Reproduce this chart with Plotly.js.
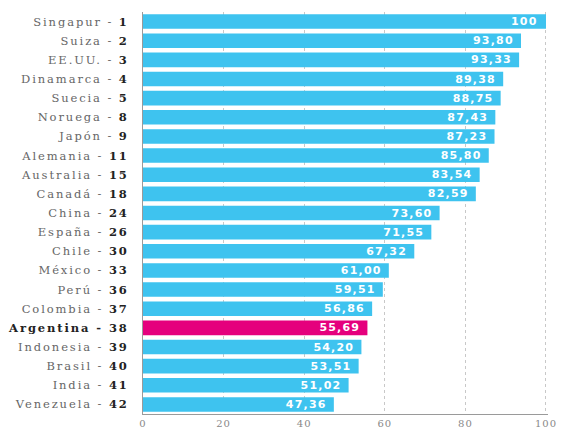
<!DOCTYPE html>
<html><head><meta charset="utf-8">
<script src="https://cdn.plot.ly/plotly-3.0.1.min.js"></script>
<style>html,body{margin:0;padding:0;background:#fff}</style>
</head><body><div id="chart" style="width:562px;height:428px"></div>
<script>
const countries = ["Singapur","Suiza","EE.UU.","Dinamarca","Suecia","Noruega","Japón","Alemania","Australia","Canadá","China","España","Chile","México","Perú","Colombia","Argentina","Indonesia","Brasil","India","Venezuela"];
const ranks = [1,2,3,4,5,8,9,11,15,18,24,26,30,33,36,37,38,39,40,41,42];
const values = [100,93.80,93.33,89.38,88.75,87.43,87.23,85.80,83.54,82.59,73.60,71.55,67.32,61.00,59.51,56.86,55.69,54.20,53.51,51.02,47.36];
const valueLabels = ["100","93,80","93,33","89,38","88,75","87,43","87,23","85,80","83,54","82,59","73,60","71,55","67,32","61,00","59,51","56,86","55,69","54,20","53,51","51,02","47,36"];
const xTicks = [0,20,40,60,80,100];
const highlight = "Argentina";

const ticktext = countries.map((c,i)=> c===highlight
  ? `<b><span style="color:#222">${c} - ${ranks[i]}</span></b>`
  : `${c} - <b><span style="color:#222">${ranks[i]}</span></b>`);
const colors = countries.map(c => c===highlight ? "#e5007d" : "#3ec3ef");

Plotly.newPlot("chart", [{
  type: "bar", orientation: "h",
  x: values, y: countries,
  marker: {color: colors},
  text: valueLabels.map(t => t + "\u00a0\u2009"), textposition: "inside", insidetextanchor: "end",
  constraintext: "none",
  textfont: {family: "DejaVu Sans", size: 11, color: "#fff", weight: "bold"},
  hoverinfo: "none", cliponaxis: false
}], {
  width: 562, height: 428,
  margin: {l: 143, r: 14, t: 12, b: 14},
  paper_bgcolor: "#fff", plot_bgcolor: "#fff",
  bargap: 0.24,
  showlegend: false,
  xaxis: {range: [0, 100.5], tickvals: xTicks, ticktext: xTicks.map(String),
    showgrid: true, gridcolor: "#c8c8c8", griddash: "dot", gridwidth: 1,
    zeroline: false, showline: true, linecolor: "#9a9a9a", linewidth: 1,
    tickfont: {family: "DejaVu Serif", size: 10, color: "#888"}, ticks: "", automargin: false},
  yaxis: {type: "category", categoryorder: "array", categoryarray: countries,
    autorange: "reversed", tickvals: countries, ticktext: ticktext,
    showline: true, linecolor: "#9a9a9a", linewidth: 1, showgrid: false, zeroline: false,
    ticks: "", ticklabelstandoff: 11,
    tickfont: {family: "DejaVu Serif", size: 11.5, color: "#666"}, automargin: false}
}, {staticPlot: true, displayModeBar: false}).then(gd => {
  gd.querySelectorAll('.ytick text').forEach(t => t.style.letterSpacing = '1.9px');
  gd.querySelectorAll('.xtick text').forEach(t => t.style.letterSpacing = '1px');
  gd.querySelectorAll('.bartext text, text.bartext').forEach(t => t.style.letterSpacing = '1.2px');
});
</script></body></html>
